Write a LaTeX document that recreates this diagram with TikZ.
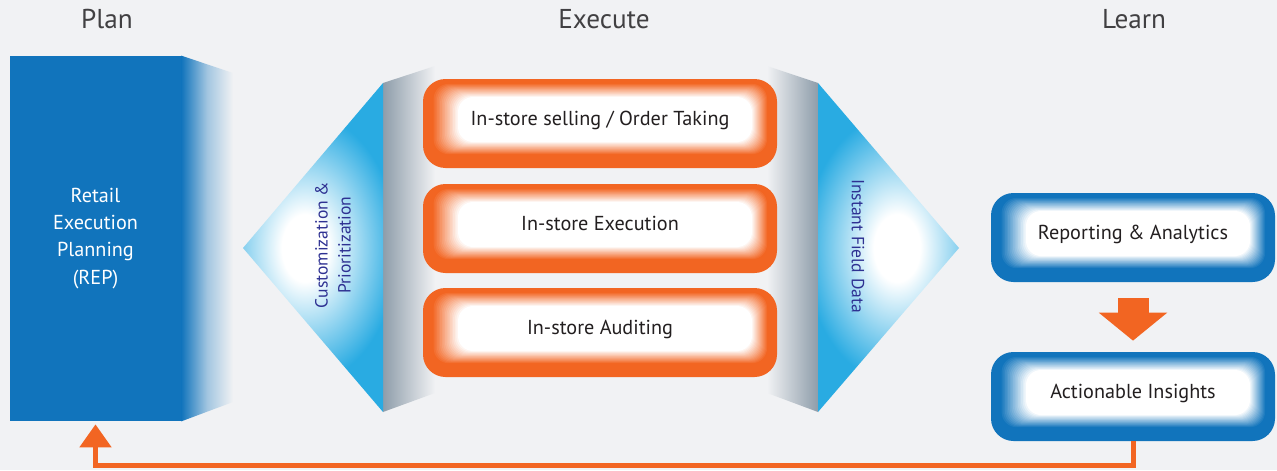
\documentclass[tikz,border=0pt]{standalone}
\usepackage{fontspec}
\setmainfont{PT Sans}
\usetikzlibrary{arrows.meta,calc}

\definecolor{bg}{HTML}{F1F2F4}
\definecolor{planblue}{HTML}{1174BC}
\definecolor{execorange}{HTML}{F26522}
\definecolor{tricyan}{HTML}{29ABE2}
\definecolor{navy}{HTML}{2E3192}
\definecolor{bandgray}{HTML}{8E9DAA}
\definecolor{ink}{HTML}{231F20}
\definecolor{headgray}{HTML}{414042}

\pgfdeclareradialshading{triglow}{\pgfpoint{0bp}{0bp}}{color(0bp)=(white); color(3.5bp)=(white); color(14bp)=(tricyan); color(50bp)=(tricyan)}

\tikzset{pillow/.style={rounded corners=0.45cm, fill=#1, inner sep=0pt, text height=2.8mm, text depth=2.1mm,
    path picture={
      \foreach \i [evaluate=\i as \t using \i/16, evaluate=\i as \m using 100-100*\i/16] in {0,...,16}
        \fill[#1!\m!white, rounded corners=0.3cm]
          ($(path picture bounding box.south west)+(0.18+0.52*\t,0.26+0.26*\t)$) rectangle
          ($(path picture bounding box.north east)+(-0.18-0.32*\t,-0.08-0.28*\t)$);
    }}}

\begin{document}
\begin{tikzpicture}
    \tikzstyle{every node}=[font=\fontsize{11.5}{14}\selectfont, text=ink, inner sep=0pt]
    \tikzstyle{title}=[font=\fontsize{15.5}{18}\selectfont, text=headgray]
    \tikzstyle{exec}=[pillow=execorange, minimum width=7.08cm, minimum height=1.78cm]
    \tikzstyle{learn}=[pillow=planblue, minimum width=5.68cm, minimum height=1.78cm]
    \tikzstyle{feed}=[execorange, line width=0.1cm, -{Triangle[length=0.46cm, width=0.62cm]}]

    \fill[bg] (0,0) rectangle (25.54,9.4);

    \node[title] (plantitle) at (2.14,9.01) {Plan};
    \node[title] (exectitle) at (12.08,9.01) {Execute};
    \node[title] (learntitle) at (22.68,9.01) {Learn};

    \node[fill=planblue, minimum width=3.42cm, minimum height=7.30cm, text=white, align=center,
          font=\fontsize{11.5}{15.4}\selectfont] (plan) at (1.91,4.63) {Retail\\Execution\\Planning\\(REP)};
    \shade[left color=planblue, right color=bg, middle color=planblue!35!bg]
        (plan.north east) -- (4.66,7.94) -- (4.66,1.36) -- (plan.south east) -- cycle;

    \coordinate (ltip) at (4.86,4.44);
    \coordinate (ltop) at (7.66,7.74);
    \coordinate (lbot) at (7.66,1.16);
    \coordinate (rtip) at (19.18,4.44);
    \coordinate (rtop) at (16.36,7.74);
    \coordinate (rbot) at (16.36,1.16);

    \shade[left color=bandgray, right color=bg] (ltop) -- (8.70,8.08) -- (8.70,1.54) -- (lbot) -- cycle;
    \shade[left color=bg, right color=bandgray] (15.34,8.08) -- (rtop) -- (rbot) -- (15.34,1.54) -- cycle;
    \begin{scope}
        \clip (ltip) -- (ltop) -- (lbot) -- cycle;
        \shade[shading=triglow] (6.1,4.44) ellipse (3.3 and 4.8);
    \end{scope}
    \begin{scope}
        \clip (rtip) -- (rtop) -- (rbot) -- cycle;
        \shade[shading=triglow] (17.94,4.44) ellipse (3.3 and 4.8);
    \end{scope}

    \node[rotate=90, text=navy, align=center, font=\fontsize{10}{13}\selectfont] (custom) at (6.66,4.5)
        {Customization \&\\Prioritization};
    \node[rotate=-90, text=navy, font=\fontsize{10}{13}\selectfont] (field) at (17.16,4.48) {Instant Field Data};

    \node[exec] (selling) at (12.00,6.93) {In-store selling / Order Taking};
    \node[exec] (execution) at (12.00,4.83) {In-store Execution};
    \node[exec] (auditing) at (12.00,2.75) {In-store Auditing};

    \node[learn] (reporting) at (22.66,4.65) {Reporting \& Analytics};
    \node[learn] (insights) at (22.66,1.47) {Actionable Insights};

    \draw[execorange, line width=0.62cm, -{Triangle[length=0.56cm, width=1.34cm]},
          shorten <=0.32cm, shorten >=0.22cm] (reporting) -- (insights);
    \draw[feed, shorten >=0.06cm] (insights.south) -- ++(0,-0.48) -| (plan.south);
\end{tikzpicture}
\end{document}
